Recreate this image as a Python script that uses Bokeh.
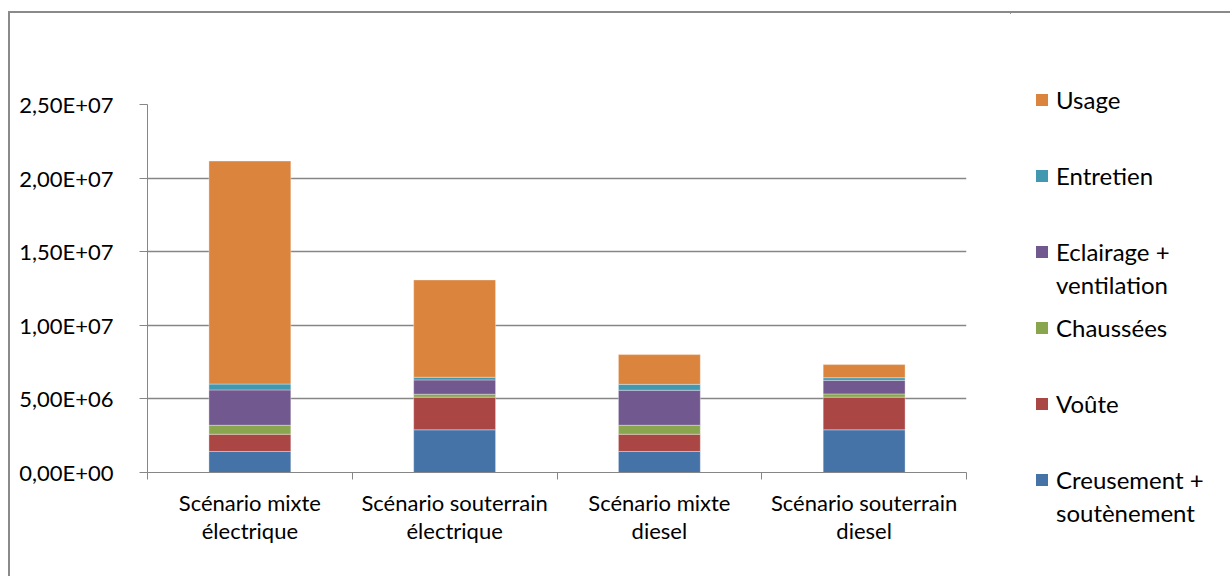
from bokeh.plotting import figure
from bokeh.layouts import row
from bokeh.models import FixedTicker, Legend, LegendItem, ColumnDataSource, Range1d
from bokeh.embed import file_html
from bokeh.resources import INLINE

categories = ["Scénario mixte\nélectrique", "Scénario souterrain\nélectrique",
              "Scénario mixte\ndiesel", "Scénario souterrain\ndiesel"]
series_names = ["Creusement +\nsoutènement", "Voûte", "Chaussées",
                "Eclairage +\nventilation", "Entretien", "Usage"]
creusement = [1.43e6, 2.90e6, 1.43e6, 2.90e6]
voute = [1.17e6, 2.22e6, 1.17e6, 2.22e6]
chaussees = [0.61e6, 0.20e6, 0.61e6, 0.22e6]
eclairage = [2.40e6, 0.97e6, 2.38e6, 0.92e6]
entretien = [0.40e6, 0.18e6, 0.40e6, 0.18e6]
usage = [15.15e6, 6.61e6, 2.02e6, 0.89e6]
y_ticks = [0, 5000000, 10000000, 15000000, 20000000, 25000000]
y_tick_labels = ["0,00E+00", "5,00E+06", "1,00E+07", "1,50E+07", "2,00E+07", "2,50E+07"]
colors = ["#4572A7", "#AA4643", "#89A54E", "#71588F", "#4198AF", "#DB843D"]

FONT = "Lato"
GRID = "#868686"
H = 563

keys = ["s0", "s1", "s2", "s3", "s4", "s5"]
n = len(categories)
src = ColumnDataSource(dict(
    x=[i + 0.5 for i in range(n)],
    s0=creusement, s1=voute, s2=chaussees, s3=eclairage, s4=entretien, s5=usage,
))

# ---------------- main chart ----------------
p = figure(width=1000, height=H, output_backend="svg", toolbar_location=None,
           x_range=Range1d(0, n), y_range=Range1d(0, 25000000),
           min_border_left=137, min_border_right=44, min_border_top=91, min_border_bottom=104)
p.frame_align = False
p.outline_line_color = None
p.background_fill_color = "white"
p.border_fill_color = "white"

renderers = p.vbar_stack(keys, x="x", width=0.4, color=colors, source=src,
                         line_color="white", line_alpha=0.5, line_width=0.7)

p.yaxis.ticker = FixedTicker(ticks=y_ticks, minor_ticks=[])
p.yaxis.major_label_overrides = {t: l for t, l in zip(y_ticks, y_tick_labels)}
p.yaxis.axis_line_color = GRID
p.yaxis.major_tick_line_color = GRID
p.yaxis.major_tick_out = 8
p.yaxis.major_tick_in = 0
p.yaxis.major_label_standoff = 26
p.yaxis.major_label_text_font = FONT
p.yaxis.major_label_text_font_size = "22px"
p.yaxis.major_label_text_color = "black"

centers = [i + 0.5 for i in range(n)]
bounds = [i for i in range(n + 1)]
p.xaxis.ticker = FixedTicker(ticks=centers, minor_ticks=bounds)
p.xaxis.major_label_overrides = {c: l for c, l in zip(centers, categories)}
p.xaxis.axis_line_color = GRID
p.xaxis.major_tick_line_color = None
p.xaxis.minor_tick_line_color = GRID
p.xaxis.minor_tick_out = 7
p.xaxis.minor_tick_in = 0
p.xaxis.major_tick_out = 7
p.xaxis.major_tick_in = 0
p.xaxis.major_label_standoff = 9
p.xaxis.major_label_text_font = FONT
p.xaxis.major_label_text_font_size = "22px"
p.xaxis.major_label_text_line_height = 1.05
p.xaxis.major_label_text_color = "black"

p.xgrid.grid_line_color = None
p.ygrid.grid_line_color = GRID
p.ygrid.grid_line_width = 1.6

# ---------------- legend panel ----------------
lp = figure(width=220, height=H, output_backend="svg", toolbar_location=None,
            x_range=Range1d(100, 101), y_range=Range1d(-2, -1),
            x_axis_type=None, y_axis_type=None,
            min_border_left=0, min_border_right=0, min_border_top=0, min_border_bottom=0)
lp.frame_align = False
lp.outline_line_color = None
lp.grid.grid_line_color = None
lp.background_fill_color = "white"
lp.border_fill_color = "white"

# same series in the legend panel (outside its visible range), used only for the swatches
swatches = lp.vbar_stack(keys, x="x", width=0.4, color=colors, source=src, line_color=None)
blank = lp.vbar(x=[], top=[], width=1, fill_alpha=0, line_alpha=0)

ITEM_H = 29
first_center = 86      # px from canvas top of first entry's first line
step = 76
second_line = 33
entries = []  # (label_text, renderer, center_px)
for k, i in enumerate(reversed(range(len(series_names)))):
    lines = series_names[i].split("\n")
    c = first_center + step * k
    entries.append((lines[0], swatches[i], c))
    for j, extra in enumerate(lines[1:]):
        entries.append((extra, blank, c + second_line * (j + 1)))

for text, rend, c in entries:
    lg = Legend(items=[LegendItem(label=text, renderers=[rend])],
                location=(24, H - c - ITEM_H / 2),
                padding=0, margin=0, border_line_color=None, background_fill_alpha=0,
                glyph_width=15, glyph_height=15, label_standoff=7,
                label_text_font=FONT, label_text_font_size="24px", label_text_color="black")
    lp.add_layout(lg, "center")

layout = row(p, lp, spacing=0)
layout.styles = {"border-left": "2px solid #8a8a8a", "border-top": "2px solid #8a8a8a",
                 "margin-top": "11px", "margin-left": "8px"}

open("out.html", "w").write(file_html(layout, INLINE))
